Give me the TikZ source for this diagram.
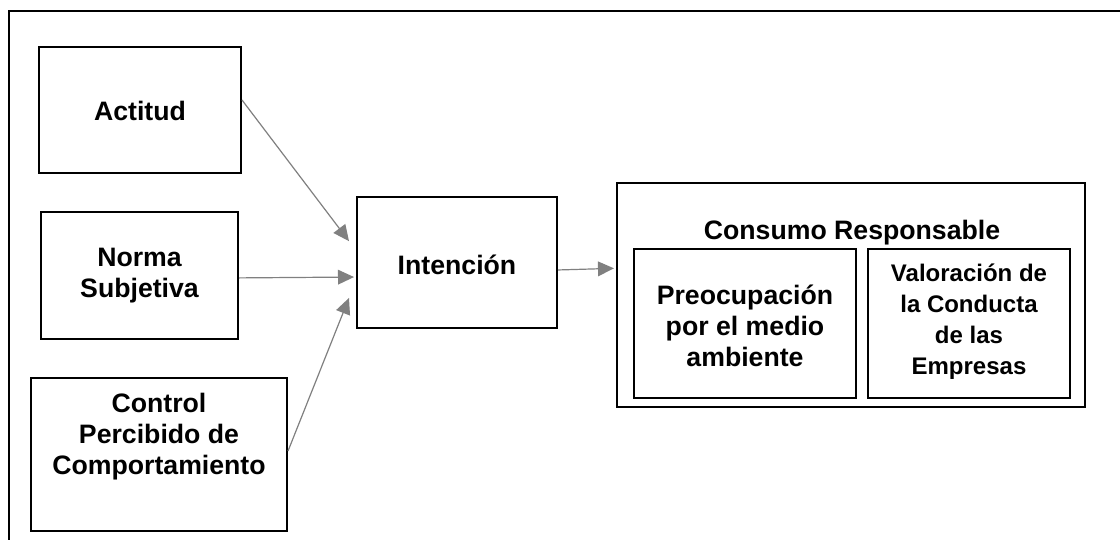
\documentclass[tikz,border=0pt]{standalone}
\usepackage{fontspec}
\setmainfont{Liberation Sans}
\usetikzlibrary{arrows.meta}
\definecolor{arrgray}{HTML}{808080}
\begin{document}
\begin{tikzpicture}[x=0.75pt,y=-0.75pt,
  box/.style={draw=black,line width=1.5pt,rectangle,inner sep=0pt},
  txt/.style={font=\bfseries\fontsize{20pt}{23.25pt}\selectfont,align=center,inner sep=0pt},
  smalltxt/.style={font=\bfseries\fontsize{18pt}{23.25pt}\selectfont,align=center,inner sep=0pt},
  arr/.style={draw=arrgray,line width=0.9pt,-{Triangle[length=12pt,width=11pt]},arrgray}]
\useasboundingbox (0,0) rectangle (1120,539);
\clip (0,0) rectangle (1120,539);
\fill[white] (0,0) rectangle (1120,539);
% outer frame (cropped on right and bottom)
\draw[line width=1.5pt] (9,560) -- (9,11) -- (1140,11);
% left column
\node[box,minimum width=151.5pt,minimum height=94.5pt] (act) at (140,110) {};
\node[txt] (acttxt) at (140,111) {Actitud};
\node[box,minimum width=147.75pt,minimum height=95.25pt] (nor) at (139.5,275.5) {};
\node[txt] (nortxt) at (139.5,276) {Norma\\Subjetiva};
\node[box,minimum width=192pt,minimum height=114.75pt] (ctrl) at (159,454.5) {};
\node[txt] (ctrltxt) at (159,437) {Control\\Percibido de\\Comportamiento};
% middle
\node[box,minimum width=150pt,minimum height=98.25pt] (int) at (457,262.5) {};
\node[txt] (inttxt) at (457,265) {Intención};
% right group
\node[box,minimum width=351pt,minimum height=168pt] (cons) at (851,295) {};
\node[txt] (constxt) at (852,233) {Consumo Responsable};
\node[box,minimum width=166.5pt,minimum height=111.75pt] (pre) at (745,323.5) {};
\node[txt] (pretxt) at (745,326) {Preocupación\\por el medio\\ambiente};
\node[box,minimum width=151.5pt,minimum height=111.75pt] (val) at (969,323.5) {};
\node[smalltxt] (valtxt) at (969,322) {Valoración de\\la Conducta\\de las\\Empresas};
% arrows
\draw[arr] ([yshift=7.5pt]act.east) -- ([xshift=-5.25pt,yshift=16pt]int.west);
\draw[arr] ([yshift=-1.8pt]nor.east) -- ([xshift=-1.5pt,yshift=-10.9pt]int.west);
\draw[arr] ([yshift=2.6pt]ctrl.east) -- ([xshift=-5.25pt,yshift=-26.6pt]int.west);
\draw[arr] ([yshift=-5.6pt]int.east) -- ([xshift=-1.5pt,yshift=20pt]cons.west);
\end{tikzpicture}
\end{document}
